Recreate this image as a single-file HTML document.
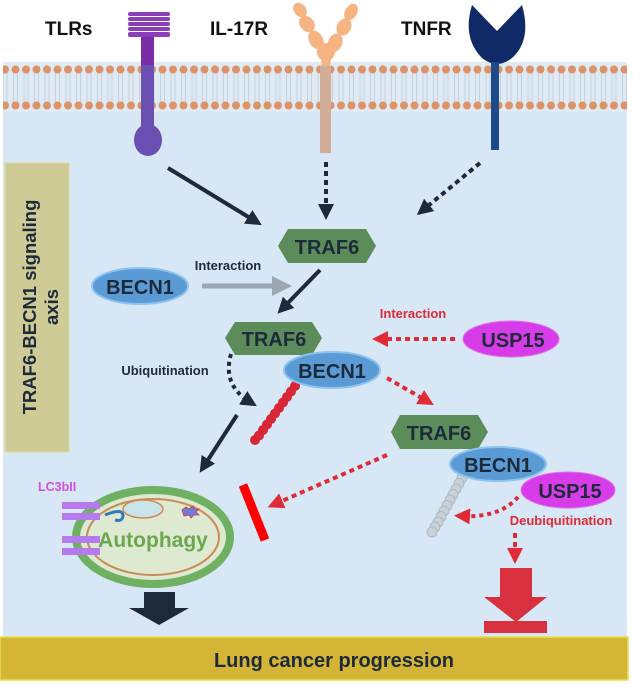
<!DOCTYPE html>
<html><head><meta charset="utf-8"><style>
html,body{margin:0;padding:0;background:#fff;}
svg{display:block;font-family:"Liberation Sans",sans-serif;font-weight:bold;}
</style></head><body>
<svg width="633" height="688" viewBox="0 0 633 688" xmlns="http://www.w3.org/2000/svg">
<defs>
<pattern id="dots1" x="0" y="65" width="10.5" height="9" patternUnits="userSpaceOnUse">
<circle cx="5" cy="4.5" r="4" fill="#dc9368"/>
</pattern>
<pattern id="dots2" x="0" y="101" width="10.5" height="9" patternUnits="userSpaceOnUse">
<circle cx="5" cy="4.5" r="4" fill="#dc9368"/>
</pattern>
<pattern id="lines" x="0" y="0" width="10.5" height="30" patternUnits="userSpaceOnUse">
<line x1="3" y1="0" x2="3" y2="30" stroke="#b9c6d2" stroke-width="0.7"/>
<line x1="7" y1="0" x2="7" y2="30" stroke="#b9c6d2" stroke-width="0.7"/>
</pattern>
<marker id="ab" viewBox="0 0 10 10" refX="5" refY="5" markerWidth="4" markerHeight="4" orient="auto"><path d="M0,0L10,5L0,10z" fill="#1c2a3a"/></marker>
<marker id="ar" viewBox="0 0 10 10" refX="5" refY="5" markerWidth="4" markerHeight="4" orient="auto"><path d="M0,0L10,5L0,10z" fill="#e02a35"/></marker>
<marker id="ag" viewBox="0 0 10 10" refX="5" refY="5" markerWidth="4" markerHeight="4" orient="auto"><path d="M0,0L10,5L0,10z" fill="#9aa7b0"/></marker>
</defs>
<!-- cell -->
<rect x="3" y="62" width="624" height="612" fill="#d7e7f5"/>
<rect x="3" y="62" width="624" height="50" fill="#dfeaf4"/>
<rect x="3" y="72" width="624" height="30" fill="url(#lines)"/>
<rect x="3" y="65" width="624" height="9" fill="url(#dots1)"/>
<rect x="3" y="101" width="624" height="9" fill="url(#dots2)"/>

<!-- TLR -->
<text x="45" y="35" font-size="19" fill="#111">TLRs</text>
<g fill="#8a3fb8">
<rect x="128" y="12" width="42" height="4" rx="2"/><rect x="128" y="17" width="42" height="4" rx="2"/>
<rect x="128" y="22" width="42" height="4" rx="2"/><rect x="128" y="27" width="42" height="4" rx="2"/>
<rect x="128" y="32" width="42" height="5" rx="2"/>
</g>
<rect x="141" y="37" width="13" height="28" fill="#7a2ea6"/>
<rect x="141" y="65" width="13" height="70" fill="#6b4fb3"/>
<ellipse cx="148" cy="140" rx="14" ry="16" fill="#6b4fb3"/>
<!-- IL-17R -->
<text x="210" y="35" font-size="19" fill="#111">IL-17R</text>
<g fill="#f6b483">
<ellipse cx="300" cy="10" rx="6" ry="8" transform="rotate(-40 300 10)"/>
<ellipse cx="307" cy="24" rx="7" ry="9" transform="rotate(-40 307 24)"/>
<ellipse cx="316" cy="40" rx="7" ry="10" transform="rotate(-30 316 40)"/>
<ellipse cx="351" cy="12" rx="6" ry="9" transform="rotate(30 351 12)"/>
<ellipse cx="344" cy="27" rx="7" ry="9" transform="rotate(30 344 27)"/>
<ellipse cx="335" cy="43" rx="7" ry="10" transform="rotate(25 335 43)"/>
<ellipse cx="326" cy="52" rx="9" ry="9"/>
<path d="M321,58 L331,58 L330,66 L322,66z"/>
</g>
<rect x="320" y="66" width="11" height="87" fill="#d1ad97"/>
<!-- TNFR -->
<text x="401" y="35" font-size="19" fill="#111">TNFR</text>
<path d="M472,5 L497,31 L522,5 Q532,40 512,58 Q497,70 482,58 Q462,38 472,5z" fill="#0f2a66"/>
<rect x="491" y="62" width="8" height="88" fill="#1d4a8a"/>

<!-- left axis box -->
<rect x="5" y="163" width="64" height="289" fill="#cfcb96" stroke="#dcdc98" stroke-width="1"/>
<text transform="translate(36 307) rotate(-90)" text-anchor="middle" font-size="18.5" fill="#1c2a3a">TRAF6-BECN1 signaling</text>
<text transform="translate(58 307) rotate(-90)" text-anchor="middle" font-size="18.5" fill="#1c2a3a">axis</text>

<!-- arrows top -->
<line x1="168" y1="168" x2="255" y2="221" stroke="#1c2a3a" stroke-width="4" marker-end="url(#ab)"/>
<line x1="326" y1="162" x2="326" y2="212" stroke="#1c2a3a" stroke-width="4" stroke-dasharray="5 4" marker-end="url(#ab)"/>
<line x1="480" y1="163" x2="423" y2="210" stroke="#1c2a3a" stroke-width="4" stroke-dasharray="5 4" marker-end="url(#ab)"/>

<!-- TRAF6 1 -->
<path d="M288,229 L366,229 L376,246 L366,263 L288,263 L278,246z" fill="#5b8c5a"/>
<text x="327" y="254" text-anchor="middle" font-size="20" fill="#1c2a3a">TRAF6</text>
<!-- BECN1 1 -->
<ellipse cx="140" cy="286" rx="48" ry="18" fill="#5b9bd5" stroke="#8cc3f0" stroke-width="2"/>
<text x="140" y="294" text-anchor="middle" font-size="20" fill="#1c2a3a">BECN1</text>
<text x="228" y="270" text-anchor="middle" font-size="13" fill="#1c2a3a">Interaction</text>
<line x1="202" y1="286" x2="282" y2="286" stroke="#9aa7b0" stroke-width="5" marker-end="url(#ag)"/>
<line x1="320" y1="270" x2="283" y2="308" stroke="#1c2a3a" stroke-width="4" marker-end="url(#ab)"/>

<!-- TRAF6 2 -->
<path d="M235,322 L312,322 L322,338 L312,355 L235,355 L225,338z" fill="#5b8c5a"/>
<text x="274" y="346" text-anchor="middle" font-size="20" fill="#1c2a3a">TRAF6</text>
<text x="413" y="318" text-anchor="middle" font-size="13" fill="#e02a35">Interaction</text>
<ellipse cx="511" cy="339" rx="48" ry="18" fill="#d63ce8" stroke="#e070f0" stroke-width="1"/>
<text x="513" y="347" text-anchor="middle" font-size="20" fill="#1c2a3a">USP15</text>
<line x1="455" y1="339" x2="380" y2="339" stroke="#e02a35" stroke-width="4" stroke-dasharray="5 4" marker-end="url(#ar)"/>
<text x="165" y="375" text-anchor="middle" font-size="13" fill="#1c2a3a">Ubiquitination</text>
<path d="M231,354 Q222,385 250,402" fill="none" stroke="#1c2a3a" stroke-width="4" stroke-dasharray="4 4" marker-end="url(#ab)"/>
<!-- red chain -->
<g fill="#d92535">
<circle cx="295" cy="386" r="5"/><circle cx="291" cy="391.5" r="5"/><circle cx="287" cy="397" r="5"/><circle cx="283" cy="402.5" r="5"/><circle cx="279" cy="408" r="5"/><circle cx="275" cy="413.5" r="5"/><circle cx="271" cy="419" r="5"/><circle cx="267" cy="424.5" r="5"/><circle cx="263" cy="430" r="5"/><circle cx="259" cy="435.5" r="5"/><circle cx="255" cy="440" r="5"/>
</g>
<ellipse cx="332" cy="370" rx="48" ry="18" fill="#5b9bd5" stroke="#8cc3f0" stroke-width="2"/>
<text x="332" y="378" text-anchor="middle" font-size="20" fill="#1c2a3a">BECN1</text>
<line x1="387" y1="378" x2="427" y2="401" stroke="#e02a35" stroke-width="4" stroke-dasharray="5 4" marker-end="url(#ar)"/>
<line x1="237" y1="415" x2="204" y2="466" stroke="#1c2a3a" stroke-width="4" marker-end="url(#ab)"/>

<!-- TRAF6 3 group -->
<path d="M400,415 L478,415 L488,432 L478,449 L400,449 L391,432z" fill="#5b8c5a"/>
<text x="439" y="440" text-anchor="middle" font-size="20" fill="#1c2a3a">TRAF6</text>
<g fill="#c8d0d8" stroke="#a9b3bd" stroke-width="0.8">
<circle cx="462" cy="478" r="5"/><circle cx="459" cy="483.5" r="5"/><circle cx="456" cy="489" r="5"/><circle cx="453" cy="494.5" r="5"/><circle cx="450" cy="500" r="5"/><circle cx="447" cy="505.5" r="5"/><circle cx="444" cy="511" r="5"/><circle cx="441" cy="516.5" r="5"/><circle cx="438" cy="522" r="5"/><circle cx="435" cy="527" r="5"/><circle cx="432" cy="532" r="5"/>
</g>
<ellipse cx="498" cy="464" rx="48" ry="17" fill="#5b9bd5" stroke="#8cc3f0" stroke-width="2"/>
<text x="498" y="472" text-anchor="middle" font-size="20" fill="#1c2a3a">BECN1</text>
<ellipse cx="568" cy="490" rx="47" ry="18" fill="#d63ce8" stroke="#e070f0" stroke-width="1"/>
<text x="570" y="498" text-anchor="middle" font-size="20" fill="#1c2a3a">USP15</text>
<path d="M518,497 Q500,518 462,516" fill="none" stroke="#e02a35" stroke-width="4" stroke-dasharray="4 4" marker-end="url(#ar)"/>
<text x="561" y="525" text-anchor="middle" font-size="13" fill="#e02a35">Deubiquitination</text>
<line x1="515" y1="533" x2="515" y2="556" stroke="#e02a35" stroke-width="4" stroke-dasharray="5 4" marker-end="url(#ar)"/>
<path d="M500,568 L532,568 L532,597 L547,597 L516,622 L484,597 L500,597z" fill="#d8303e"/>
<rect x="484" y="621" width="63" height="12" fill="#d8303e"/>

<!-- inhibition -->
<line x1="387" y1="455" x2="275" y2="504" stroke="#e02a35" stroke-width="4" stroke-dasharray="5 4" marker-end="url(#ar)"/>
<line x1="243" y1="485" x2="265" y2="540" stroke="#f00" stroke-width="9"/>

<!-- autophagy -->
<ellipse cx="153" cy="537" rx="77" ry="47" fill="#dde9d0" stroke="#6fb062" stroke-width="8"/>
<ellipse cx="153" cy="537" rx="66" ry="38" fill="none" stroke="#c98a55" stroke-width="2"/>
<ellipse cx="143" cy="509" rx="20" ry="9" fill="#c9e3ea" stroke="#d08850" stroke-width="1.5"/>
<path d="M105,515 Q122,508 123,515 Q123,522 115,520" fill="none" stroke="#2f7bb8" stroke-width="3"/>
<path d="M182,510 l4,-3 l3,2 l4,-3 l2,3 l4,0 l-3,3 l3,3 l-5,0 l-3,3 l-2,-3 l-5,1 z" fill="#6a7ee0" stroke="#e0303a" stroke-width="0.8"/>
<text x="153" y="547" text-anchor="middle" font-size="21" fill="#6aa84f">Autophagy</text>
<text x="38" y="491" font-size="12.5" fill="#d050e8">LC3bII</text>
<g fill="#b57bee">
<rect x="62" y="502" width="38" height="7"/><rect x="62" y="513" width="38" height="7"/>
<rect x="62" y="536" width="38" height="7"/><rect x="62" y="548" width="38" height="7"/>
</g>
<path d="M144,592 L175,592 L175,608 L189,608 L159,625 L129,608 L144,608z" fill="#1c2a3a"/>

<!-- bottom bar -->
<rect x="0" y="637" width="628" height="43" fill="#d4b535" stroke="#e6e050" stroke-width="1.5"/>
<text x="334" y="667" text-anchor="middle" font-size="20" fill="#1c2a3a">Lung cancer progression</text>
</svg>
</body></html>
